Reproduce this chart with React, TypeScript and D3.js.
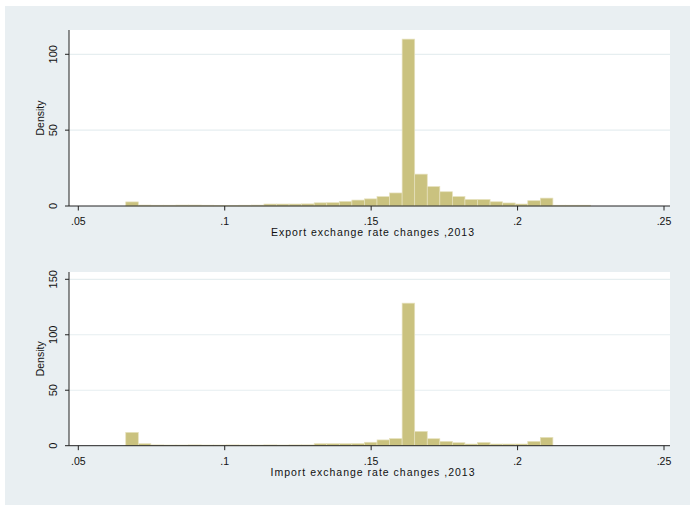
import React from "react";
import * as d3 from "d3";

// Histogram bins (Stata-style): start and width of bins, densities per bin
const binStart = 0.0662;
const binWidth = 0.00429;
const exportDensity = [
  2.7, 0.6, 0.5, 0.5, 0.6, 0.6, 0.5, 0.4, 0.4, 0.5, 0.6,
  1.3, 1.3, 1.3, 1.4, 2.1, 2.2, 3.0, 3.9, 4.7, 6.2, 8.6,
  110, 21, 12.8, 9.4, 6.2, 4.3, 4.3, 2.8, 2.0, 1.3, 3.5, 5.2,
  0.5, 0.5, 0.5,
];
const importDensity = [
  12, 1.8, 0.7, 0.6, 0.6, 0.7, 0.6, 0.6, 0.7, 0.6, 0.6,
  0.7, 0.6, 0.7, 0.7, 1.8, 1.8, 1.8, 1.9, 3.1, 5.2, 6.4,
  128.5, 12.9, 6.3, 3.9, 2.7, 1.5, 2.9, 1.5, 1.5, 1.5, 3.9, 7.5,
  0, 0, 0,
];
const xTicks = [0.05, 0.1, 0.15, 0.2, 0.25];
const xTickLabels = [".05", ".1", ".15", ".2", ".25"];
const exportYTicks = [0, 50, 100];
const importYTicks = [0, 50, 100, 150];
const exportTitle = "Export exchange rate changes ,2013";
const importTitle = "Import exchange rate changes ,2013";
const yTitle = "Density";

const FONT = "'Liberation Sans', Arial, sans-serif";
const BG = "#e9eff2";
const GRID = "#e6eef0";
const BAR = "#cac27f";
const BAR_STROKE = "#e6e1bd";

const PLOT_L = 69;
const PLOT_R = 670;

const x = d3.scaleLinear().domain([0.05, 0.25]).range([78.3, 664]);

type PanelProps = {
  values: number[];
  yTicks: number[];
  yScale: d3.ScaleLinear<number, number>;
  top: number;
  title: string;
  titleWidth: number;
};

function Panel({ values, yTicks, yScale, top, title, titleWidth }: PanelProps) {
  const base = yScale(0);
  return (
    <g>
      <rect x={PLOT_L} y={top} width={PLOT_R - PLOT_L} height={base - top} fill="#ffffff" />
      {yTicks.filter((t) => t > 0).map((t) => (
        <line key={"g" + t} x1={PLOT_L} x2={PLOT_R} y1={yScale(t)} y2={yScale(t)} stroke={GRID} strokeWidth={1.2} />
      ))}
      {values.map((v, i) => {
        const x0 = x(binStart + i * binWidth);
        const x1 = x(binStart + (i + 1) * binWidth);
        const y1 = yScale(v);
        if (v <= 0) return null;
        return (
          <rect key={i} x={x0} y={y1} width={x1 - x0} height={base - y1} fill={BAR} stroke={BAR_STROKE} strokeWidth={0.7} />
        );
      })}
      {/* y axis */}
      <line x1={PLOT_L} x2={PLOT_L} y1={top} y2={base} stroke="#222" strokeWidth={1} />
      {yTicks.map((t) => (
        <g key={"y" + t}>
          <line x1={PLOT_L - 4} x2={PLOT_L} y1={yScale(t)} y2={yScale(t)} stroke="#222" strokeWidth={1} />
          <text
            transform={`translate(57,${yScale(t)}) rotate(-90)`}
            textAnchor="middle"
            fontFamily={FONT}
            fontSize={11}
            fill="#111"
          >
            {t}
          </text>
        </g>
      ))}
      <text
        transform={`translate(43.5,${(top + base) / 2}) rotate(-90)`}
        textAnchor="middle"
        fontFamily={FONT}
        fontSize={10.5}
        fill="#111"
      >
        {yTitle}
      </text>
      {/* x axis */}
      <line x1={PLOT_L} x2={PLOT_R} y1={base} y2={base} stroke="#222" strokeWidth={1} />
      {xTicks.map((t, i) => (
        <g key={"x" + t}>
          <line x1={x(t)} x2={x(t)} y1={base} y2={base + 4.5} stroke="#222" strokeWidth={1} />
          <text x={x(t)} y={base + 19} textAnchor="middle" fontFamily={FONT} fontSize={10.5} fill="#111">
            {xTickLabels[i]}
          </text>
        </g>
      ))}
      <text
        x={(PLOT_L + PLOT_R) / 2 + 3}
        y={base + 30}
        textAnchor="middle"
        fontFamily={FONT}
        fontSize={10.5}
        fill="#111"
        textLength={titleWidth}
        lengthAdjust="spacing"
      >
        {title}
      </text>
    </g>
  );
}

export default function App() {
  const yTop = d3.scaleLinear().domain([0, 100]).range([206, 54.3]);
  const yBottom = d3.scaleLinear().domain([0, 150]).range([445.7, 279.3]);
  return (
    <svg width={692} height={507} style={{ position: "absolute", left: 0, top: 0 }}>
      <rect x={0} y={0} width={692} height={507} fill="#ffffff" />
      <rect x={5} y={6} width={685} height={499} fill={BG} />
      <Panel values={exportDensity} yTicks={exportYTicks} yScale={yTop} top={30} title={exportTitle} titleWidth={203} />
      <Panel values={importDensity} yTicks={importYTicks} yScale={yBottom} top={272} title={importTitle} titleWidth={204} />
    </svg>
  );
}
